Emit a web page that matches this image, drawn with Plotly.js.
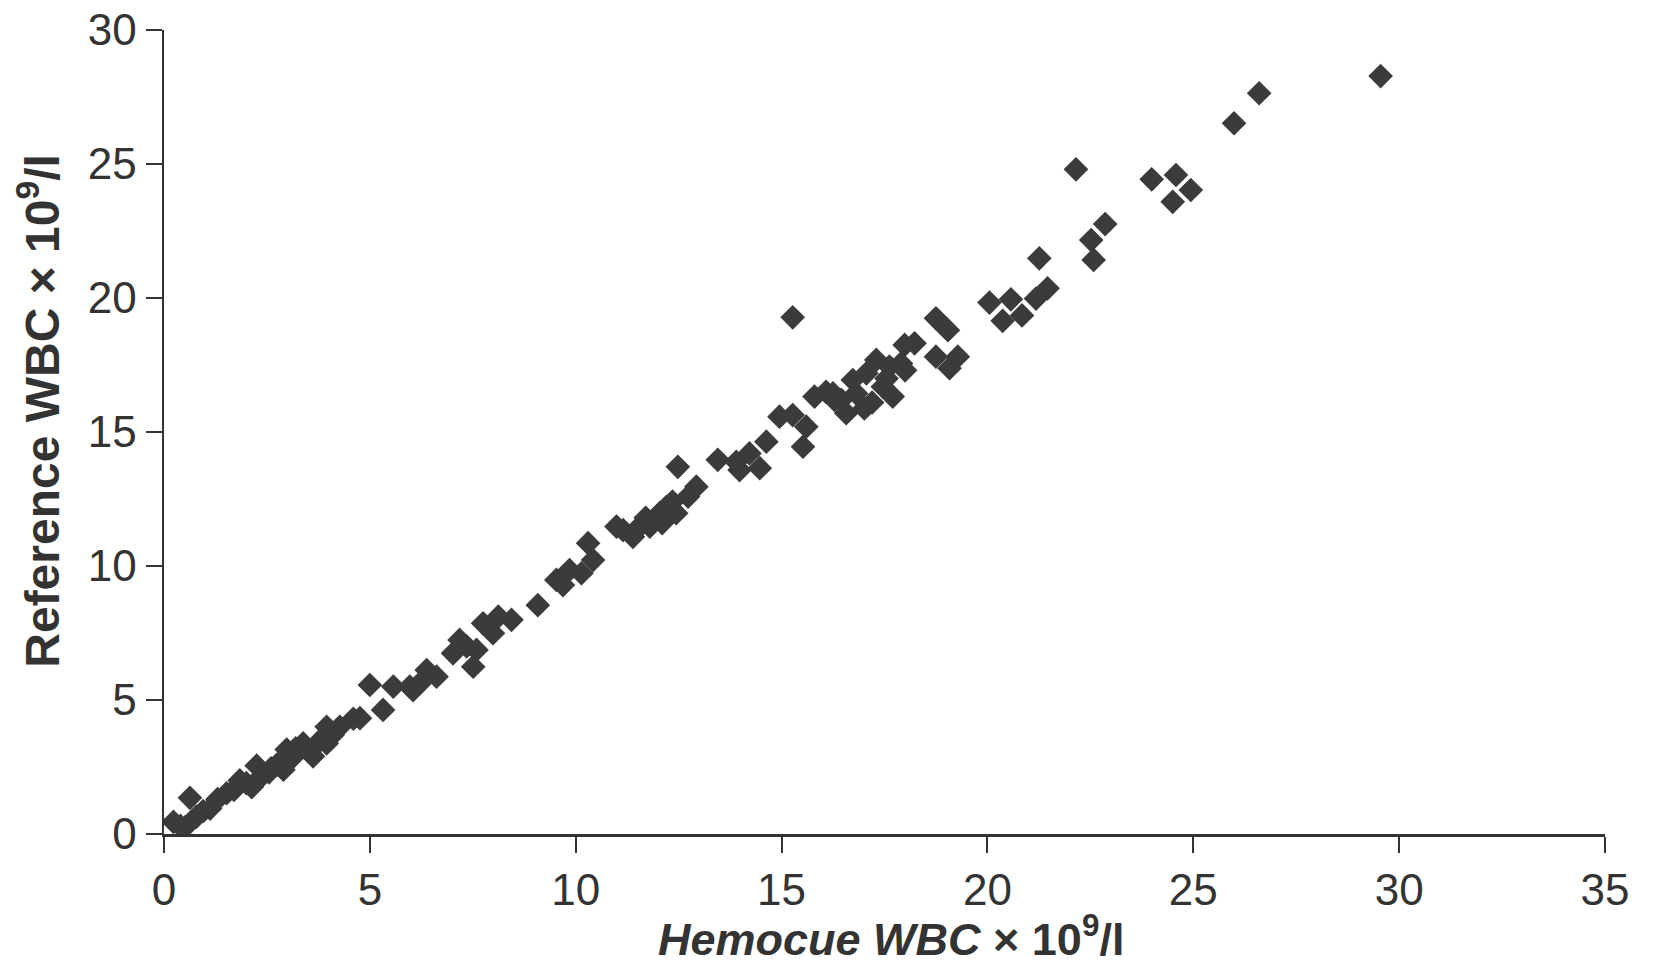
<!DOCTYPE html>
<html>
<head>
<meta charset="utf-8">
<script src="https://cdn.plot.ly/plotly-3.0.1.min.js"></script>
<style>html,body{margin:0;padding:0;background:#fff;}#chart{width:1654px;height:966px;}</style>
</head>
<body>
<div id="chart"></div>
<script>
// Hemocue WBC (x 10^9/l)
const hemocue = [
  0.23, 0.40, 0.51, 0.63, 0.79, 0.95, 1.12, 1.30, 1.52, 1.70, 1.84, 2.00, 2.13, 2.25, 2.40, 2.55, 2.60, 2.75, 2.90, 2.98,
  3.00, 3.15, 3.20, 3.38, 3.50, 3.62, 3.80, 3.95, 3.95, 4.10, 4.27, 4.60, 4.76, 5.00, 5.32, 5.57, 5.97, 6.05, 6.20,
  6.38, 6.62, 7.02, 7.18, 7.35, 7.51, 7.59, 7.75, 7.99, 8.12, 8.44, 9.08, 9.53, 9.69, 9.85, 10.14, 10.30, 10.42,
  10.99, 11.15, 11.39, 11.55, 11.70, 11.80, 12.04, 12.10, 12.20, 12.35, 12.44, 12.48, 12.73, 12.93, 13.45, 13.90, 13.98,
  14.22, 14.47, 14.63, 14.95, 15.27, 15.60, 15.52, 15.27,
  15.80, 16.08, 16.25, 16.29, 16.45, 16.57, 16.73, 16.81, 17.01, 17.06, 17.20, 17.30, 17.46, 17.55, 17.62, 17.70, 17.90,
  17.99, 18.00, 18.23,
  18.75, 18.75, 19.04, 19.08, 19.28,
  20.05, 20.37, 20.57, 20.84, 21.18, 21.46, 21.26,
  22.15, 22.52, 22.58, 22.86, 23.99, 24.58, 24.50, 24.94, 25.99, 26.60, 29.55
];
// Reference WBC (x 10^9/l)
const reference = [
  0.45, 0.30, 0.25, 1.35, 0.65, 0.85, 0.95, 1.30, 1.52, 1.65, 2.00, 1.90, 1.75, 2.55, 2.20, 2.30, 2.45, 2.60, 2.40, 3.15,
  2.70, 2.90, 3.20, 3.38, 3.10, 2.90, 3.50, 4.00, 3.38, 3.70, 4.00, 4.30, 4.32, 5.56, 4.63, 5.50, 5.50, 5.37, 5.60,
  6.12, 5.87, 6.74, 7.24, 7.00, 6.24, 6.87, 7.86, 7.49, 8.11, 7.99, 8.54, 9.48, 9.29, 9.85, 9.73, 10.85, 10.22,
  11.47, 11.34, 11.09, 11.47, 11.80, 11.47, 11.97, 11.60, 12.20, 12.40, 11.97, 13.70, 12.59, 12.96, 13.96, 13.89, 13.58,
  14.20, 13.65, 14.64, 15.57, 15.63, 15.20, 14.45, 19.28,
  16.32, 16.50, 16.44, 16.19, 16.20, 15.70, 16.94, 16.44, 15.88, 17.19, 16.10, 17.69, 16.69, 17.00, 17.44, 16.32, 17.56,
  18.25, 17.30, 18.31,
  19.24, 17.81, 18.80, 17.38, 17.81,
  19.83, 19.15, 19.95, 19.35, 19.98, 20.36, 21.48,
  24.80, 22.16, 21.42, 22.76, 24.43, 24.59, 23.59, 24.03, 26.52, 27.64, 28.28
];
const xTicks = [0, 5, 10, 15, 20, 25, 30, 35];
const yTicks = [0, 5, 10, 15, 20, 25, 30];

const FONT = 'Liberation Sans, Arial, sans-serif';

const axisCommon = {
  showgrid: false,
  zeroline: false,
  showline: true,
  linecolor: '#333333',
  linewidth: 2.5,
  ticks: 'outside',
  ticklen: 16,
  tickwidth: 2,
  tickcolor: '#333333',
  tickfont: {family: FONT, size: 44, color: '#333333'}
};

const trace = {
  type: 'scatter',
  mode: 'markers',
  x: hemocue,
  y: reference,
  marker: {symbol: 'diamond', size: 19, color: '#3b3b3d', line: {width: 0}},
  hoverinfo: 'x+y'
};

const layout = {
  width: 1654,
  height: 966,
  paper_bgcolor: '#ffffff',
  plot_bgcolor: '#ffffff',
  showlegend: false,
  margin: {l: 164, r: 49, t: 30, b: 132},
  xaxis: Object.assign({}, axisCommon, {
    range: [0, 35],
    tickmode: 'array',
    tickvals: xTicks,
    ticktext: xTicks.map(String)
  }),
  yaxis: Object.assign({}, axisCommon, {
    range: [0, 30],
    tickmode: 'array',
    tickvals: yTicks,
    ticktext: yTicks.map(String)
  }),
  annotations: [{
    text: '<b>Reference WBC × 10<sup>9</sup>/l</b>',
    textangle: -90,
    xref: 'paper', yref: 'paper',
    x: -0.087, y: 0.526,
    xanchor: 'center', yanchor: 'middle',
    showarrow: false,
    font: {family: FONT, size: 48, color: '#333333'}
  }, {
    text: '<b><i>Hemocue WBC</i> × 10<sup>9</sup>/l</b>',
    xref: 'paper', yref: 'paper',
    x: 0.5045, y: -0.127,
    xanchor: 'center', yanchor: 'middle',
    showarrow: false,
    font: {family: FONT, size: 45, color: '#333333'}
  }]
};

Plotly.newPlot('chart', [trace], layout, {displayModeBar: false, staticPlot: true});
</script>
</body>
</html>
